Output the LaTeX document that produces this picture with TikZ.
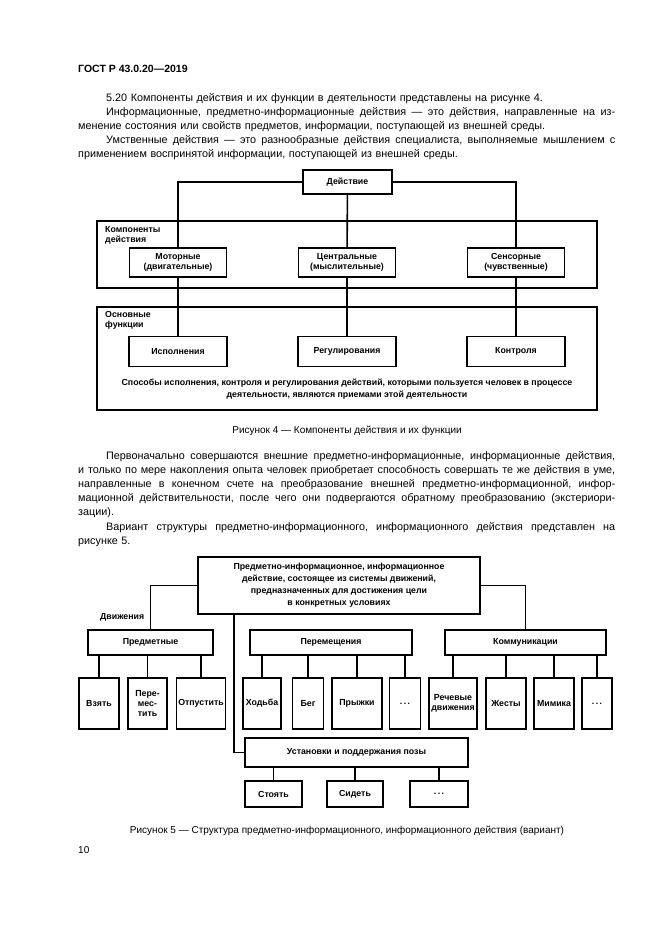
\documentclass[tikz,border=0pt]{standalone}
\usepackage{fontspec}
\setmainfont{Liberation Sans}
\usetikzlibrary{positioning}

\newcommand\jline[1]{\leavevmode\hbox to 537pt{\frenchspacing\spaceskip=0.278em plus 1fil minus 0.12em\relax #1}}
\newcommand\ind{\hspace*{28pt}}
\newcommand\etcdots{.\,.\,.}

\tikzset{
  body/.style={anchor=base west,inner sep=0pt,text width=537pt,align=left,
    font=\fontsize{10.8}{14.1}\selectfont},
  figcap/.style={anchor=base,inner sep=0pt,font=\fontsize{10}{12}\selectfont},
  blk/.style={draw,line width=1.6pt,inner sep=0pt,align=center,
    font=\fontsize{8.8}{10}\selectfont\bfseries},
  frame/.style={draw,line width=1.6pt},
  lnk/.style={line width=1.6pt},
  tag/.style={anchor=north west,inner sep=0pt,align=left,
    font=\fontsize{8.8}{9.5}\selectfont\bfseries},
}

\begin{document}
\begin{tikzpicture}[x=1pt,y=-1pt]
\useasboundingbox (0,0) rectangle (661,935);

\node[anchor=base west,inner sep=0pt,font=\fontsize{10.5}{12}\selectfont\bfseries] (head) at (78,72) {ГОСТ Р 43.0.20—2019};

\node[body] (txt1) at (78,101) {\ind 5.20 Компоненты действия и их функции в деятельности представлены на рисунке 4.\\
\jline{\ind Информационные, предметно-информационные действия — это действия, направленные на из-}\\
менение состояния или свойств предметов, информации, поступающей из внешней среды.\\
\jline{\ind Умственные действия — это разнообразные действия специалиста, выполняемые мышлением с}\\
применением воспринятой информации, поступающей из внешней среды.};

% Figure 4
\node[blk,minimum width=89pt,minimum height=24pt] (act) at (347.5,182) {Действие};
\draw[frame] (97,221) rectangle (597,288);
\node[tag] (comp) at (105,226.5) {Компоненты\\действия};
\node[blk,minimum width=97pt,minimum height=29pt] (mot) at (178,262.5) {Моторные\\(двигательные)};
\node[blk,minimum width=97pt,minimum height=29pt] (cen) at (347,262.5) {Центральные\\(мыслительные)};
\node[blk,minimum width=97pt,minimum height=29pt] (sen) at (516,262.5) {Сенсорные\\(чувственные)};

\draw[frame] (97,307) rectangle (597,410);
\node[tag] (func) at (105,311.5) {Основные\\функции};
\node[blk,minimum width=98pt,minimum height=30pt] (exe) at (178,351.5) {Исполнения};
\node[blk,minimum width=98pt,minimum height=30pt] (reg) at (347,351.5) {Регулирования};
\node[blk,minimum width=98pt,minimum height=30pt] (ctl) at (516,351.5) {Контроля};
\node[align=center,inner sep=0pt,font=\fontsize{8.8}{12}\selectfont\bfseries] (ways) at (347,389)
  {Способы исполнения, контроля и регулирования действий, которыми пользуется человек в процессе\\деятельности, являются приемами этой деятельности};

\draw[lnk] (act.west) -| (mot.north);
\draw[lnk] (act.east) -| (sen.north);
\draw[lnk] (act) -- (cen);
\draw[lnk] (mot) -- (exe);
\draw[lnk] (cen) -- (reg);
\draw[lnk] (sen) -- (ctl);

\node[figcap] (cap4) at (347,433.5) {Рисунок 4 — Компоненты действия и их функции};

\node[body] (txt2) at (78,459.5) {\jline{\ind Первоначально совершаются внешние предметно-информационные, информационные действия,}\\
\jline{и только по мере накопления опыта человек приобретает способность совершать те же действия в уме,}\\
\jline{направленные в конечном счете на преобразование внешней предметно-информационной, инфор-}\\
\jline{мационной действительности, после чего они подвергаются обратному преобразованию (экстериори-}\\
зации).\\
\jline{\ind Вариант структуры предметно-информационного, информационного действия представлен на}\\
рисунке 5.};

% Figure 5
\node[blk,minimum width=282pt,minimum height=57pt,font=\fontsize{8.8}{12}\selectfont\bfseries] (main) at (339,585.5)
  {Предметно-информационное, информационное\\действие, состоящее из системы движений,\\предназначенных для достижения цели\\в конкретных условиях};
\node[tag,anchor=base west] (mov) at (100,619.5) {Движения};

\node[blk,minimum width=125pt,minimum height=25pt] (obj) at (150.5,642.5) {Предметные};
\node[blk,minimum width=162pt,minimum height=25pt] (trn) at (331,642.5) {Перемещения};
\node[blk,minimum width=161pt,minimum height=25pt] (com) at (525.5,642.5) {Коммуникации};

\foreach \n/\x/\w/\t in {take/99/40/Взять, move/147.5/39/Пере-\\мес-\\тить, drop/201/49/Отпустить,
    walk/262/38/Ходьба, run/308/31/Бег, jump/357/50/Прыжки, dotsa/405/31/\etcdots,
    talk/453/48/Речевые\\движения, gest/506/40/Жесты, mimic/554/40/Мимика, dotsb/597/30/\etcdots}
  \node[blk,minimum width=\w pt,minimum height=51pt] (\n) at (\x,703.5) {\t};

\node[blk,minimum width=223pt,minimum height=29pt] (pose) at (356.5,752.5) {Установки и поддержания позы};
\node[blk,minimum width=57pt,minimum height=26pt] (stand) at (273.5,794) {Стоять};
\node[blk,minimum width=56pt,minimum height=26pt] (sit) at (355,794) {Сидеть};
\node[blk,minimum width=58pt,minimum height=26pt] (dotsc) at (439,794) {\etcdots};

\draw[lnk] (main.west) -| (obj.north);
\draw[lnk] (main.east) -| (com.north);
\draw[lnk] ([xshift=-105pt]main.south) |- (pose.west);
\foreach \n in {take,move,drop} \draw[lnk] (\n.north |- obj.south) -- (\n.north);
\foreach \n in {walk,run,jump,dotsa} \draw[lnk] (\n.north |- trn.south) -- (\n.north);
\foreach \n in {talk,gest,mimic,dotsb} \draw[lnk] (\n.north |- com.south) -- (\n.north);
\foreach \n in {stand,sit,dotsc} \draw[lnk] (\n.north |- pose.south) -- (\n.north);

\node[figcap] (cap5) at (347,833.5) {Рисунок 5 — Структура предметно-информационного, информационного действия (вариант)};
\node[anchor=base west,inner sep=0pt,font=\fontsize{10}{12}\selectfont] (page) at (78,853.5) {10};
\end{tikzpicture}
\end{document}
